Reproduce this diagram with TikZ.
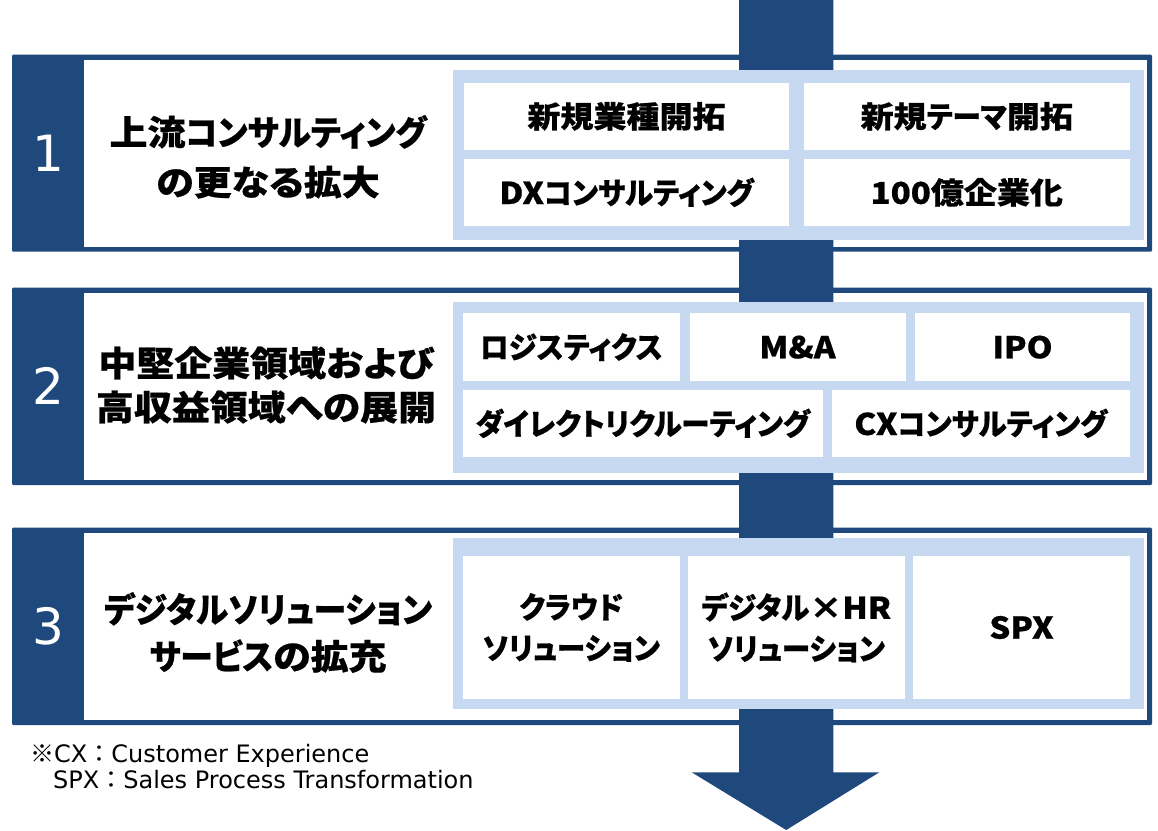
\documentclass[tikz,border=0pt]{standalone}
\usepackage{fontspec}
\setmainfont{Noto Sans CJK JP}[RawFeature=+palt]
\newfontfamily\jpx{Noto Sans CJK JP}[RawFeature=+palt,FakeStretch=1.1,BoldFeatures={FakeBold=0.6}]
\newfontfamily\jpk{Noto Sans CJK JP}[RawFeature=+palt,FakeStretch=0.95,BoldFeatures={FakeBold=0.6}]
\newfontfamily\jpn{Noto Sans CJK JP}
\newfontfamily\dv{DejaVu Sans}
\newcommand\kt[1]{{\jpk #1}}
\definecolor{navy}{RGB}{31,73,125}
\definecolor{lblue}{RGB}{198,217,241}
\begin{document}
\begin{tikzpicture}[x=1pt,y=-1pt,
  frame/.style={fill=navy,rounded corners=1.2pt},
  whitearea/.style={fill=white},
  bluearea/.style={fill=lblue},
  cell/.style={fill=white,inner sep=0pt,align=center,
    font=\jpx\bfseries\fontsize{30}{41}\selectfont},
  title/.style={align=center,inner sep=0pt,font=\jpx\bfseries\fontsize{34.5}{50}\selectfont},
  num/.style={text=white,inner sep=0pt,font=\dv\fontsize{50}{50}\selectfont},
  foot/.style={anchor=base west,inner sep=0pt,font=\dv\fontsize{24}{26}\selectfont}]
\useasboundingbox (0,0) rectangle (1158,830);
\fill[white] (0,0) rectangle (1158,830);
% panel frames
\foreach \T/\B in {54.7/251.7, 287.7/485, 527.7/725}{
  \path[frame] (12,\T) rectangle (1152,\B);
  \path[whitearea] (84,\T+5) rectangle (1147,\B-5);
}
% arrow
\fill[navy] (739,0) -- (833.3,0) -- (833.3,772.3) -- (879.3,772.3) -- (786.2,830)
  -- (691.7,772.3) -- (739,772.3) -- cycle;
% light blue areas
\path[bluearea] (452.7,70) rectangle (1143.5,240);
\path[bluearea] (452.7,301.7) rectangle (1143.5,472.7);
\path[bluearea] (452.7,538.3) rectangle (1143.5,708.5);
% numbers
\node[num] (n1) at (48,153.2) {1};
\node[num] (n2) at (48,386.4) {2};
\node[num] (n3) at (48,626.4) {3};
% titles
\node[title] (t1) at (268,156.8) {上流\kt{コンサルティング}\\の更なる拡大};
\node[title,font=\jpx\bfseries\fontsize{34.5}{44}\selectfont] (t2) at (266,385) {中堅企業領域および\\高収益領域への展開};
\node[title,font=\jpx\bfseries\fontsize{34.5}{47}\selectfont] (t3) at (268,632.5) {\kt{デジタルソリューション}\\\kt{サービス}の拡充};
% panel 1 cells
\node[cell,minimum width=325,minimum height=67.3] (c11) at (626.5,116.35) {新規業種開拓};
\node[cell,minimum width=325.5,minimum height=67.3] (c12) at (966.75,116.35) {新規\kt{テーマ}開拓};
\node[cell,minimum width=325,minimum height=66.7] (c13) at (626.5,192.35) {DX\kt{コンサルティング}};
\node[cell,minimum width=325.5,minimum height=66.7] (c14) at (966.75,192.35) {100億企業化};
% panel 2 cells
\node[cell,minimum width=216.5,minimum height=67.7] (c21) at (571.25,347.15) {\kt{ロジスティクス}};
\node[cell,minimum width=216,minimum height=67.7] (c22) at (797.5,347.15) {M\&A};
\node[cell,minimum width=215,minimum height=67.7] (c23) at (1022.5,347.15) {IPO};
\node[cell,minimum width=359.5,minimum height=66.7] (c24) at (642.75,423.35) {\kt{ダイレクトリクルーティング}};
\node[cell,minimum width=298.5,minimum height=66.7] (c25) at (980.75,423.35) {CX\kt{コンサルティング}};
% panel 3 cells
\node[cell,minimum width=216.5,minimum height=143] (c31) at (571.25,627.5) {\kt{クラウド}\\\kt{ソリューション}};
\node[cell,minimum width=216.5,minimum height=143] (c32) at (796.25,627.5) {\kt{デジタル}×HR\\\kt{ソリューション}};
\node[cell,minimum width=217,minimum height=143] (c33) at (1021.5,627.5) {SPX};
% footnote
\node[foot] (f1) at (30,762) {{\jpn ※}CX{\jpn ：}Customer Experience};
\node[foot] (f2) at (53,788) {SPX{\jpn ：}Sales Process Transformation};
\end{tikzpicture}
\end{document}
